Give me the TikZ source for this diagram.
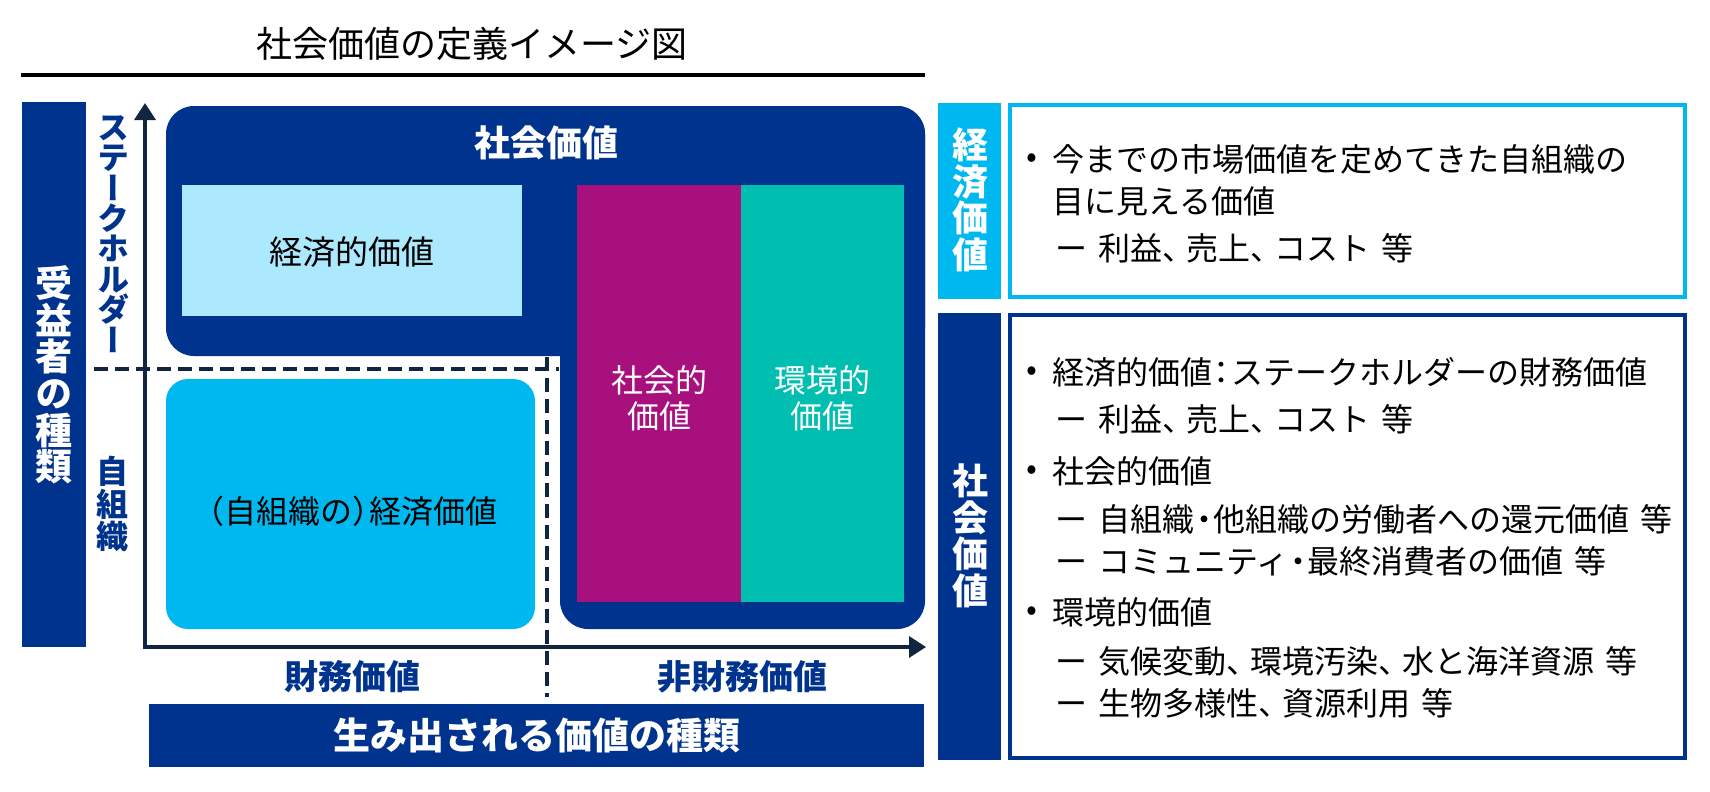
\documentclass[tikz,border=0pt]{standalone}
\usepackage{fontspec}
\setmainfont{Noto Sans CJK JP}
\newfontfamily\jpv{Noto Sans CJK JP}[RawFeature=+vert]
\usetikzlibrary{arrows.meta}
\definecolor{navy}{HTML}{00338D}
\definecolor{cyanb}{HTML}{00B8F0}
\definecolor{lightb}{HTML}{ADE9FE}
\definecolor{purp}{HTML}{A8107E}
\definecolor{tealg}{HTML}{00BFB0}
\definecolor{axisc}{HTML}{10253F}
\newcommand\fsz[2]{\fontsize{#1}{#2}\selectfont}
\newcommand\nk{\hspace{-0.2em}・\hspace{-0.2em}}
\newcommand\gapsp{\hspace{0.35em}}
\newcommand\colonj{\hspace{-0.2em}：\hspace{-0.2em}}
\newcommand\tn{、\hspace{-0.25em}}
\begin{document}
\begin{tikzpicture}[x=1pt,y=-1pt,
  lbl/.style={inner sep=0pt, outer sep=0pt},
  body/.style={inner sep=0pt, anchor=west, font=\fsz{32}{36}},
  bul/.style={inner sep=0pt, font=\fsz{32}{36}},
  vtxt/.style={inner sep=0pt, align=center},
  axisline/.style={draw=axisc, line width=3.5pt},
  dashline/.style={draw=axisc, line width=4.5pt, dash pattern=on 13.5pt off 7.5pt}
]
\useasboundingbox (0,0) rectangle (1710,792);
\fill[white] (0,0) rectangle (1710,792);

% title
\node[lbl, font=\fsz{36}{40}] (title) at (472,44) {社会価値の定義イメージ図};
\coordinate (TL) at (21,75);
\coordinate (TR) at (925,75);
\draw[line width=4pt, black] (TL) -- (TR);

% left bar
\fill[navy] (22,102) rectangle (86,647);
\node[vtxt, text=white, font=\jpv\bfseries\fsz{37}{36.7}] (benef) at (54,375) {受\\益\\者\\の\\種\\類};

% axis labels (vertical)
\node[vtxt, text=navy, font=\jpv\bfseries\fsz{32}{30.4}] (stake) at (113,234) {ス\\テ\\ー\\ク\\ホ\\ル\\ダ\\ー};
\node[vtxt, text=navy, font=\jpv\bfseries\fsz{32}{32.7}] (self) at (112,504) {自\\組\\織};

% social value L-shape
\fill[navy, rounded corners=28pt] (166,106) rectangle (925,356);
\fill[navy, rounded corners=28pt] (560,106) rectangle (925,629);
\node[lbl, text=white, font=\bfseries\fsz{36}{40}] (social) at (546,143) {社会価値};

% economic value (light blue)
\fill[lightb] (182,185) rectangle (522,316);
\node[lbl, font=\fsz{33}{36}] (econ) at (352,252) {経済的価値};

% social / environmental columns
\fill[purp] (577,185) rectangle (741,602);
\fill[tealg] (741,185) rectangle (904,602);
\node[vtxt, text=white, font=\fsz{32}{36}] (soc) at (659,398) {社会的\\価値};
\node[vtxt, text=white, font=\fsz{32}{36}] (env) at (822,398) {環境的\\価値};

% own organisation economic value
\fill[cyanb, rounded corners=22pt] (166,379) rectangle (535,629);
\node[lbl, font=\fsz{32}{36}] (owneco) at (353,511) {\hspace{-0.5em}（自組織の）\hspace{-0.45em}経済価値};

% dashed dividers
\coordinate (HL) at (94,369);
\coordinate (HR) at (559,369);
\coordinate (VT) at (547,357);
\coordinate (VB) at (547,697);
\draw[dashline] (HL) -- (HR);
\draw[dashline] (VT) -- (VB);

% axes
\coordinate (O) at (145,647);
\coordinate (YT) at (145,103);
\coordinate (XT) at (926,647);
\draw[axisline, line join=miter, {Triangle[length=17pt,width=21pt]}-{Triangle[length=17pt,width=21pt]}] (YT) -- (O) -- (XT);

\node[lbl, text=navy, font=\bfseries\fsz{34}{38}] (fin) at (352,677) {財務価値};
\node[lbl, text=navy, font=\bfseries\fsz{34}{38}] (nonfin) at (742,677) {非財務価値};

% bottom bar
\fill[navy] (149,704) rectangle (924,767);
\node[lbl, text=white, font=\bfseries\fsz{37}{40}] (kinds) at (537,735) {生み出される価値の種類};

% right: economic value box
\fill[cyanb] (938,103) rectangle (1001,299);
\node[vtxt, text=white, font=\jpv\bfseries\fsz{36}{36.5}] (elab) at (970,200) {経\\済\\価\\値};
\draw[cyanb, line width=4pt] (1010,105) rectangle (1685,297);
\node[bul] (b1) at (1032,161) {•};
\node[body] (l1) at (1052,159) {今までの市場価値を定めてきた自組織の};
\node[body] (l2) at (1052,201) {目に見える価値};
\node[body] (l3) at (1055,248) {ー\gapsp 利益\tn 売上\tn コスト\gapsp 等};

% right: social value box
\fill[navy] (938,313) rectangle (1001,760);
\node[vtxt, text=white, font=\jpv\bfseries\fsz{36}{36.5}] (slab) at (970,536) {社\\会\\価\\値};
\draw[navy, line width=4pt] (1010,315) rectangle (1685,758);
\node[bul] (b2) at (1032,374) {•};
\node[body] (m1) at (1052,372) {経済的価値\colonj ステークホルダーの財務価値};
\node[body] (m2) at (1055,419) {ー\gapsp 利益\tn 売上\tn コスト\gapsp 等};
\node[bul] (b3) at (1032,473) {•};
\node[body] (m3) at (1052,471) {社会的価値};
\node[body] (m4) at (1055,519) {ー\gapsp 自組織\nk 他組織の労働者への還元価値\gapsp 等};
\node[body] (m5) at (1055,561) {ー\gapsp コミュニティ\nk 最終消費者の価値\gapsp 等};
\node[bul] (b4) at (1032,614) {•};
\node[body] (m6) at (1052,612) {環境的価値};
\node[body] (m7) at (1055,661) {ー\gapsp 気候変動\tn 環境汚染\tn 水と海洋資源\gapsp 等};
\node[body] (m8) at (1055,703) {ー\gapsp 生物多様性\tn 資源利用\gapsp 等};
\end{tikzpicture}
\end{document}
